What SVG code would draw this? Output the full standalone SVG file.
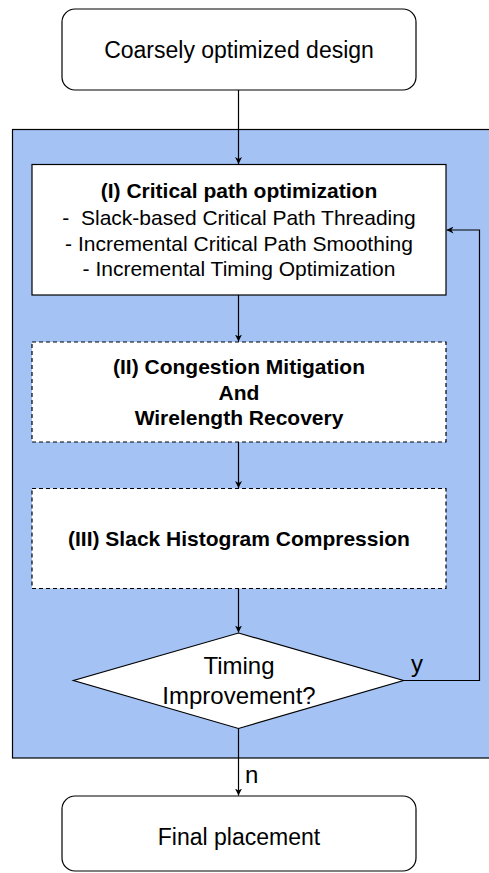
<svg xmlns="http://www.w3.org/2000/svg" width="489" height="873" viewBox="0 0 489 873">
  <defs>
    <marker id="arrow" viewBox="0 0 10 10" refX="10" refY="5" markerWidth="7" markerHeight="7" markerUnits="userSpaceOnUse" orient="auto">
      <path d="M0,0 L10,5 L0,10 L3,5 Z" fill="#000"/>
    </marker>
    <style>
      text { font-family: "Liberation Sans", Arial, sans-serif; fill: #000; text-anchor: middle; }
      .t23 { font-size: 23px; }
      .t21 { font-size: 21px; }
      .b21 { font-size: 21px; font-weight: bold; }
      .t24 { font-size: 24px; }
      .lbl { font-size: 24px; text-anchor: start; }
      .node { fill: #fff; stroke: #000; stroke-width: 1.2; }
      .dash { fill: #fff; stroke: #000; stroke-width: 1.2; stroke-dasharray: 4 3; }
      .edge { fill: none; stroke: #000; stroke-width: 1.2; marker-end: url(#arrow); }
    </style>
  </defs>

  <!-- refinement loop container -->
  <g id="loop-region">
    <rect x="12.5" y="129.5" width="490" height="628.5" fill="#a4c2f4" stroke="#000" stroke-width="1.2"/>
  </g>

  <g id="start">
    <rect class="node" x="62" y="9" width="354" height="81" rx="13"/>
    <text class="t23" x="239" y="58">Coarsely optimized design</text>
  </g>

  <g id="critical-path">
    <rect class="node" x="32" y="164.5" width="414" height="130.5"/>
    <text class="b21" x="239" y="198">(I) Critical path optimization</text>
    <text class="t21" x="239" y="225" xml:space="preserve">-  Slack-based Critical Path Threading</text>
    <text class="t21" x="239" y="251">- Incremental Critical Path Smoothing</text>
    <text class="t21" x="239" y="276">- Incremental Timing Optimization</text>
  </g>

  <g id="congestion">
    <rect class="dash" x="32" y="342" width="414" height="100"/>
    <text class="b21" x="239" y="374">(II) Congestion Mitigation</text>
    <text class="b21" x="239" y="400">And</text>
    <text class="b21" x="239" y="425">Wirelength Recovery</text>
  </g>

  <g id="histogram">
    <rect class="dash" x="32" y="488.5" width="414" height="100"/>
    <text class="b21" x="239" y="546">(III) Slack Histogram Compression</text>
  </g>

  <g id="decision">
    <polygon class="node" points="238.5,633 403.5,680.5 238.5,728.5 73.5,680.5"/>
    <text class="t24" x="239" y="674">Timing</text>
    <text class="t24" x="239" y="704">Improvement?</text>
  </g>

  <g id="final">
    <rect class="node" x="62" y="796" width="354" height="75" rx="13"/>
    <text class="t23" x="239" y="845">Final placement</text>
  </g>

  <g id="connectors">
    <path class="edge" d="M238.5,90 V164"/>
    <path class="edge" d="M238.5,295 V341.5"/>
    <path class="edge" d="M238.5,442 V488"/>
    <path class="edge" d="M238.5,588.5 V632.5"/>
    <path class="edge" d="M403.5,680.5 H479.5 V230 H446.5"/>
    <path class="edge" d="M238.5,728.5 V795.5"/>
    <text class="lbl" x="411" y="672">y</text>
    <text class="lbl" x="245" y="783">n</text>
  </g>
</svg>
